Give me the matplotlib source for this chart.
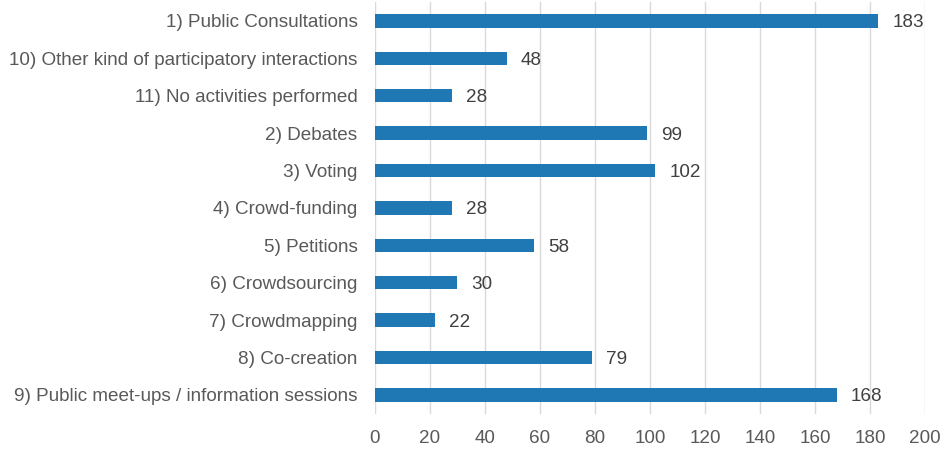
import matplotlib.pyplot as plt

# categories top to bottom, as shown in the chart
categories = [
    "1) Public Consultations",
    "10) Other kind of participatory interactions",
    "11) No activities performed",
    "2) Debates",
    "3) Voting",
    "4) Crowd-funding",
    "5) Petitions",
    "6) Crowdsourcing",
    "7) Crowdmapping",
    "8) Co-creation",
    "9) Public meet-ups / information sessions",
]
counts = [183, 48, 28, 99, 102, 28, 58, 30, 22, 79, 168]
x_ticks = list(range(0, 201, 20))

plt.rcParams["font.family"] = ["Liberation Sans", "DejaVu Sans"]
text_color = "#595959"
fs = 13.6

fig = plt.figure(figsize=(9.44, 4.5), dpi=100)
ax = fig.add_axes([0.397, 0.081, 0.583, 0.914])

pos = list(range(len(categories)))
ax.barh(pos, counts, height=0.36, color="#1f77b4", zorder=3)

for p, v in zip(pos, counts):
    ax.annotate(str(v), (v, p), xytext=(10, 0), textcoords="offset points",
                va="center_baseline", ha="left", fontsize=fs, color="#404040")

ax.set_yticks(pos)
ax.set_yticklabels(categories, fontsize=fs, color=text_color)
ax.set_xticks(x_ticks)
ax.set_xticklabels([str(t) for t in x_ticks], fontsize=fs, color=text_color)
ax.set_xlim(0, 200)
ax.set_ylim(len(categories) - 0.5, -0.5)

ax.grid(axis="x", color="#d9d9d9", linewidth=1, zorder=0)
for s in ax.spines.values():
    s.set_visible(False)
ax.tick_params(axis="y", length=0, pad=12.5)
ax.tick_params(axis="x", length=0, pad=12)

plt.savefig("out.png", dpi=100)
